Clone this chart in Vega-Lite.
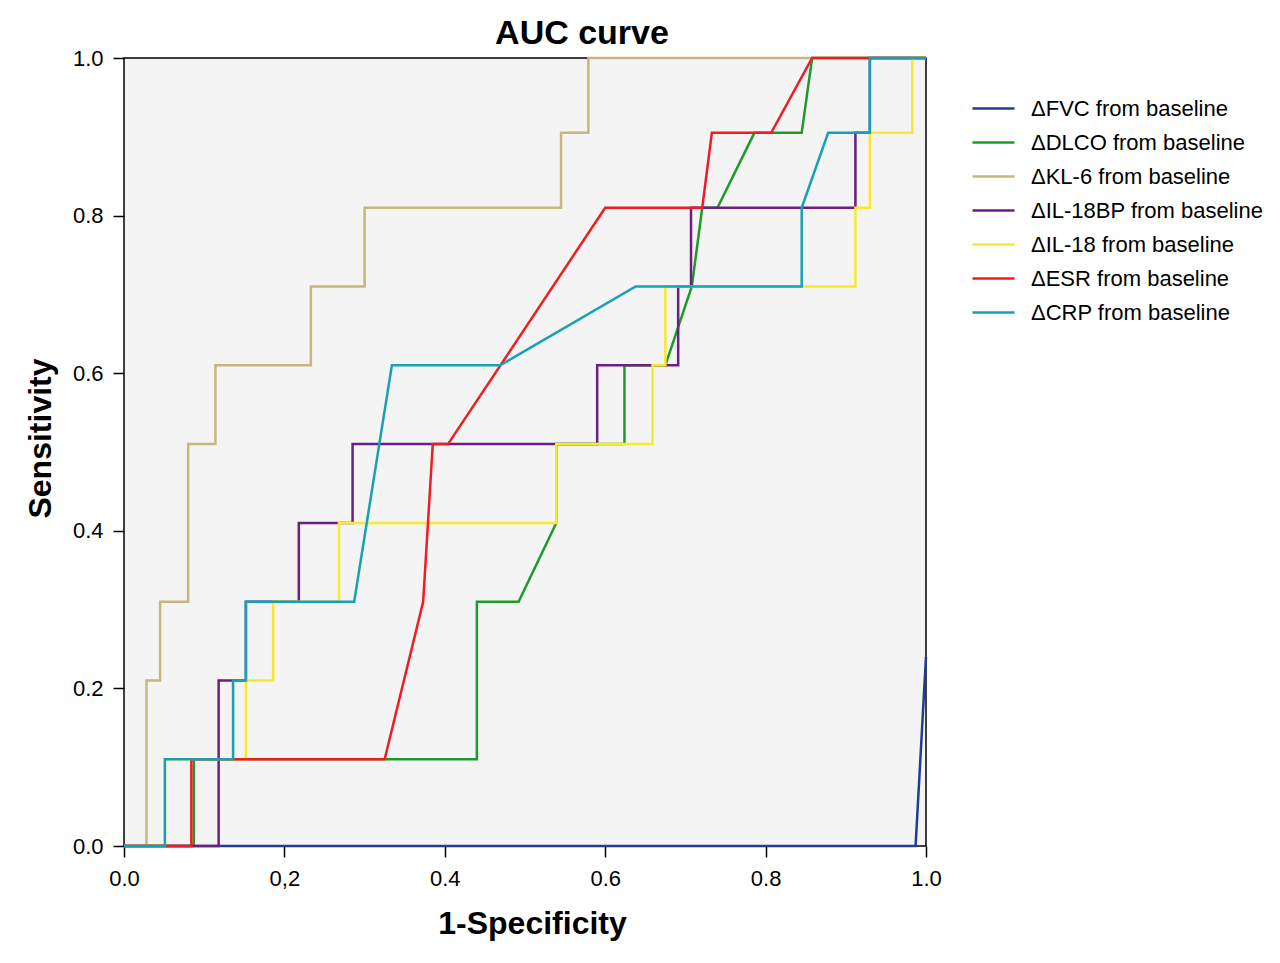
{
  "$schema": "https://vega.github.io/schema/vega-lite/v6.json",
  "autosize": "none",
  "padding": {"left": 124, "top": 58, "right": 354, "bottom": 117},
  "width": 802,
  "height": 788,
  "background": "white",
  "config": {
    "font": "Liberation Sans",
    "view": {"fill": "#f4f4f4", "stroke": "black", "strokeWidth": 1.5},
    "axis": {
      "grid": false,
      "domain": false,
      "tickColor": "black",
      "tickWidth": 1.5,
      "tickSize": 11,
      "labelColor": "black",
      "labelFontSize": 22,
      "labelFont": "Liberation Sans",
      "labelFlush": false,
      "titleFont": "Liberation Sans",
      "titleFontSize": 32,
      "titleFontWeight": "bold",
      "titleColor": "black"
    },
    "legend": {
      "labelFont": "Liberation Sans",
      "labelFontSize": 22,
      "labelColor": "black",
      "labelLimit": 320,
      "symbolType": "stroke",
      "symbolSize": 1764,
      "symbolStrokeWidth": 2.5,
      "labelOffset": 15,
      "rowPadding": -0.7,
      "padding": 0
    }
  },
  "title": {
    "text": "AUC curve",
    "font": "Liberation Sans",
    "fontSize": 34,
    "fontWeight": "bold",
    "color": "black",
    "anchor": "middle",
    "frame": "group",
    "dx": 57,
    "baseline": "alphabetic",
    "offset": -31
  },
  "data": {
    "values": [
      {"series": "ΔFVC from baseline", "i": 0, "fpr": 0, "tpr": 0},
      {"series": "ΔFVC from baseline", "i": 1, "fpr": 0.987, "tpr": 0},
      {"series": "ΔFVC from baseline", "i": 2, "fpr": 1, "tpr": 0.24},

      {"series": "ΔDLCO from baseline", "i": 0, "fpr": 0, "tpr": 0},
      {"series": "ΔDLCO from baseline", "i": 1, "fpr": 0.087, "tpr": 0},
      {"series": "ΔDLCO from baseline", "i": 2, "fpr": 0.087, "tpr": 0.11},
      {"series": "ΔDLCO from baseline", "i": 3, "fpr": 0.44, "tpr": 0.11},
      {"series": "ΔDLCO from baseline", "i": 4, "fpr": 0.44, "tpr": 0.31},
      {"series": "ΔDLCO from baseline", "i": 5, "fpr": 0.492, "tpr": 0.31},
      {"series": "ΔDLCO from baseline", "i": 6, "fpr": 0.539, "tpr": 0.41},
      {"series": "ΔDLCO from baseline", "i": 7, "fpr": 0.539, "tpr": 0.51},
      {"series": "ΔDLCO from baseline", "i": 8, "fpr": 0.624, "tpr": 0.51},
      {"series": "ΔDLCO from baseline", "i": 9, "fpr": 0.624, "tpr": 0.61},
      {"series": "ΔDLCO from baseline", "i": 10, "fpr": 0.675, "tpr": 0.61},
      {"series": "ΔDLCO from baseline", "i": 11, "fpr": 0.708, "tpr": 0.71},
      {"series": "ΔDLCO from baseline", "i": 12, "fpr": 0.721, "tpr": 0.81},
      {"series": "ΔDLCO from baseline", "i": 13, "fpr": 0.74, "tpr": 0.81},
      {"series": "ΔDLCO from baseline", "i": 14, "fpr": 0.786, "tpr": 0.905},
      {"series": "ΔDLCO from baseline", "i": 15, "fpr": 0.845, "tpr": 0.905},
      {"series": "ΔDLCO from baseline", "i": 16, "fpr": 0.858, "tpr": 1},
      {"series": "ΔDLCO from baseline", "i": 17, "fpr": 1, "tpr": 1},

      {"series": "ΔKL-6 from baseline", "i": 0, "fpr": 0, "tpr": 0},
      {"series": "ΔKL-6 from baseline", "i": 1, "fpr": 0.028, "tpr": 0},
      {"series": "ΔKL-6 from baseline", "i": 2, "fpr": 0.028, "tpr": 0.21},
      {"series": "ΔKL-6 from baseline", "i": 3, "fpr": 0.045, "tpr": 0.21},
      {"series": "ΔKL-6 from baseline", "i": 4, "fpr": 0.045, "tpr": 0.31},
      {"series": "ΔKL-6 from baseline", "i": 5, "fpr": 0.08, "tpr": 0.31},
      {"series": "ΔKL-6 from baseline", "i": 6, "fpr": 0.08, "tpr": 0.51},
      {"series": "ΔKL-6 from baseline", "i": 7, "fpr": 0.114, "tpr": 0.51},
      {"series": "ΔKL-6 from baseline", "i": 8, "fpr": 0.114, "tpr": 0.61},
      {"series": "ΔKL-6 from baseline", "i": 9, "fpr": 0.233, "tpr": 0.61},
      {"series": "ΔKL-6 from baseline", "i": 10, "fpr": 0.233, "tpr": 0.71},
      {"series": "ΔKL-6 from baseline", "i": 11, "fpr": 0.3, "tpr": 0.71},
      {"series": "ΔKL-6 from baseline", "i": 12, "fpr": 0.3, "tpr": 0.81},
      {"series": "ΔKL-6 from baseline", "i": 13, "fpr": 0.545, "tpr": 0.81},
      {"series": "ΔKL-6 from baseline", "i": 14, "fpr": 0.545, "tpr": 0.905},
      {"series": "ΔKL-6 from baseline", "i": 15, "fpr": 0.579, "tpr": 0.905},
      {"series": "ΔKL-6 from baseline", "i": 16, "fpr": 0.579, "tpr": 1},
      {"series": "ΔKL-6 from baseline", "i": 17, "fpr": 1, "tpr": 1},

      {"series": "ΔIL-18BP from baseline", "i": 0, "fpr": 0, "tpr": 0},
      {"series": "ΔIL-18BP from baseline", "i": 1, "fpr": 0.118, "tpr": 0},
      {"series": "ΔIL-18BP from baseline", "i": 2, "fpr": 0.118, "tpr": 0.21},
      {"series": "ΔIL-18BP from baseline", "i": 3, "fpr": 0.152, "tpr": 0.21},
      {"series": "ΔIL-18BP from baseline", "i": 4, "fpr": 0.152, "tpr": 0.31},
      {"series": "ΔIL-18BP from baseline", "i": 5, "fpr": 0.218, "tpr": 0.31},
      {"series": "ΔIL-18BP from baseline", "i": 6, "fpr": 0.218, "tpr": 0.41},
      {"series": "ΔIL-18BP from baseline", "i": 7, "fpr": 0.285, "tpr": 0.41},
      {"series": "ΔIL-18BP from baseline", "i": 8, "fpr": 0.285, "tpr": 0.51},
      {"series": "ΔIL-18BP from baseline", "i": 9, "fpr": 0.59, "tpr": 0.51},
      {"series": "ΔIL-18BP from baseline", "i": 10, "fpr": 0.59, "tpr": 0.61},
      {"series": "ΔIL-18BP from baseline", "i": 11, "fpr": 0.691, "tpr": 0.61},
      {"series": "ΔIL-18BP from baseline", "i": 12, "fpr": 0.691, "tpr": 0.71},
      {"series": "ΔIL-18BP from baseline", "i": 13, "fpr": 0.707, "tpr": 0.71},
      {"series": "ΔIL-18BP from baseline", "i": 14, "fpr": 0.707, "tpr": 0.81},
      {"series": "ΔIL-18BP from baseline", "i": 15, "fpr": 0.912, "tpr": 0.81},
      {"series": "ΔIL-18BP from baseline", "i": 16, "fpr": 0.912, "tpr": 0.905},
      {"series": "ΔIL-18BP from baseline", "i": 17, "fpr": 0.93, "tpr": 0.905},
      {"series": "ΔIL-18BP from baseline", "i": 18, "fpr": 0.93, "tpr": 1},
      {"series": "ΔIL-18BP from baseline", "i": 19, "fpr": 1, "tpr": 1},

      {"series": "ΔIL-18 from baseline", "i": 0, "fpr": 0, "tpr": 0},
      {"series": "ΔIL-18 from baseline", "i": 1, "fpr": 0.051, "tpr": 0},
      {"series": "ΔIL-18 from baseline", "i": 2, "fpr": 0.051, "tpr": 0.11},
      {"series": "ΔIL-18 from baseline", "i": 3, "fpr": 0.152, "tpr": 0.11},
      {"series": "ΔIL-18 from baseline", "i": 4, "fpr": 0.152, "tpr": 0.21},
      {"series": "ΔIL-18 from baseline", "i": 5, "fpr": 0.186, "tpr": 0.21},
      {"series": "ΔIL-18 from baseline", "i": 6, "fpr": 0.186, "tpr": 0.31},
      {"series": "ΔIL-18 from baseline", "i": 7, "fpr": 0.268, "tpr": 0.31},
      {"series": "ΔIL-18 from baseline", "i": 8, "fpr": 0.268, "tpr": 0.41},
      {"series": "ΔIL-18 from baseline", "i": 9, "fpr": 0.539, "tpr": 0.41},
      {"series": "ΔIL-18 from baseline", "i": 10, "fpr": 0.539, "tpr": 0.51},
      {"series": "ΔIL-18 from baseline", "i": 11, "fpr": 0.659, "tpr": 0.51},
      {"series": "ΔIL-18 from baseline", "i": 12, "fpr": 0.659, "tpr": 0.61},
      {"series": "ΔIL-18 from baseline", "i": 13, "fpr": 0.675, "tpr": 0.61},
      {"series": "ΔIL-18 from baseline", "i": 14, "fpr": 0.675, "tpr": 0.71},
      {"series": "ΔIL-18 from baseline", "i": 15, "fpr": 0.912, "tpr": 0.71},
      {"series": "ΔIL-18 from baseline", "i": 16, "fpr": 0.912, "tpr": 0.81},
      {"series": "ΔIL-18 from baseline", "i": 17, "fpr": 0.93, "tpr": 0.81},
      {"series": "ΔIL-18 from baseline", "i": 18, "fpr": 0.93, "tpr": 0.905},
      {"series": "ΔIL-18 from baseline", "i": 19, "fpr": 0.983, "tpr": 0.905},
      {"series": "ΔIL-18 from baseline", "i": 20, "fpr": 0.983, "tpr": 1},
      {"series": "ΔIL-18 from baseline", "i": 21, "fpr": 1, "tpr": 1},

      {"series": "ΔESR from baseline", "i": 0, "fpr": 0, "tpr": 0},
      {"series": "ΔESR from baseline", "i": 1, "fpr": 0.084, "tpr": 0},
      {"series": "ΔESR from baseline", "i": 2, "fpr": 0.084, "tpr": 0.11},
      {"series": "ΔESR from baseline", "i": 3, "fpr": 0.325, "tpr": 0.11},
      {"series": "ΔESR from baseline", "i": 4, "fpr": 0.373, "tpr": 0.31},
      {"series": "ΔESR from baseline", "i": 5, "fpr": 0.385, "tpr": 0.51},
      {"series": "ΔESR from baseline", "i": 6, "fpr": 0.404, "tpr": 0.51},
      {"series": "ΔESR from baseline", "i": 7, "fpr": 0.6, "tpr": 0.81},
      {"series": "ΔESR from baseline", "i": 8, "fpr": 0.721, "tpr": 0.81},
      {"series": "ΔESR from baseline", "i": 9, "fpr": 0.733, "tpr": 0.905},
      {"series": "ΔESR from baseline", "i": 10, "fpr": 0.807, "tpr": 0.905},
      {"series": "ΔESR from baseline", "i": 11, "fpr": 0.858, "tpr": 1},
      {"series": "ΔESR from baseline", "i": 12, "fpr": 1, "tpr": 1},

      {"series": "ΔCRP from baseline", "i": 0, "fpr": 0, "tpr": 0},
      {"series": "ΔCRP from baseline", "i": 1, "fpr": 0.051, "tpr": 0},
      {"series": "ΔCRP from baseline", "i": 2, "fpr": 0.051, "tpr": 0.11},
      {"series": "ΔCRP from baseline", "i": 3, "fpr": 0.136, "tpr": 0.11},
      {"series": "ΔCRP from baseline", "i": 4, "fpr": 0.136, "tpr": 0.21},
      {"series": "ΔCRP from baseline", "i": 5, "fpr": 0.152, "tpr": 0.21},
      {"series": "ΔCRP from baseline", "i": 6, "fpr": 0.152, "tpr": 0.31},
      {"series": "ΔCRP from baseline", "i": 7, "fpr": 0.287, "tpr": 0.31},
      {"series": "ΔCRP from baseline", "i": 8, "fpr": 0.334, "tpr": 0.61},
      {"series": "ΔCRP from baseline", "i": 9, "fpr": 0.469, "tpr": 0.61},
      {"series": "ΔCRP from baseline", "i": 10, "fpr": 0.638, "tpr": 0.71},
      {"series": "ΔCRP from baseline", "i": 11, "fpr": 0.845, "tpr": 0.71},
      {"series": "ΔCRP from baseline", "i": 12, "fpr": 0.845, "tpr": 0.81},
      {"series": "ΔCRP from baseline", "i": 13, "fpr": 0.878, "tpr": 0.905},
      {"series": "ΔCRP from baseline", "i": 14, "fpr": 0.93, "tpr": 0.905},
      {"series": "ΔCRP from baseline", "i": 15, "fpr": 0.93, "tpr": 1},
      {"series": "ΔCRP from baseline", "i": 16, "fpr": 1, "tpr": 1}
    ]
  },
  "mark": {"type": "line", "strokeWidth": 2.5, "clip": false},
  "encoding": {
    "x": {
      "field": "fpr",
      "type": "quantitative",
      "scale": {"domain": [0, 1], "nice": false},
      "axis": {
        "title": "1-Specificity",
        "values": [0, 0.2, 0.4, 0.6, 0.8, 1],
        "labelExpr": "datum.value == 0.2 ? '0,2' : format(datum.value, '.1f')",
        "labelPadding": 11,
        "titleBaseline": "alphabetic",
        "titleAnchor": "start",
        "titleAlign": "center",
        "titleX": 408,
        "titleY": 87
      }
    },
    "y": {
      "field": "tpr",
      "type": "quantitative",
      "scale": {"domain": [0, 1], "nice": false},
      "axis": {
        "title": "Sensitivity",
        "values": [0, 0.2, 0.4, 0.6, 0.8, 1],
        "format": ".1f",
        "labelPadding": 10,
        "titleBaseline": "alphabetic",
        "titleAlign": "center",
        "titleAngle": -90,
        "titleX": -74,
        "titleY": 380
      }
    },
    "color": {
      "field": "series",
      "type": "nominal",
      "sort": null,
      "scale": {
        "domain": ["ΔFVC from baseline", "ΔDLCO from baseline", "ΔKL-6 from baseline", "ΔIL-18BP from baseline", "ΔIL-18 from baseline", "ΔESR from baseline", "ΔCRP from baseline"],
        "range": ["#1c3f94", "#1e9a2a", "#c6b77e", "#6b1f80", "#f7ea2c", "#ef1d23", "#19a0b5"]
      },
      "legend": {"title": null, "orient": "none", "legendX": 847, "legendY": 28}
    },
    "order": {"field": "i", "type": "quantitative"}
  }
}
